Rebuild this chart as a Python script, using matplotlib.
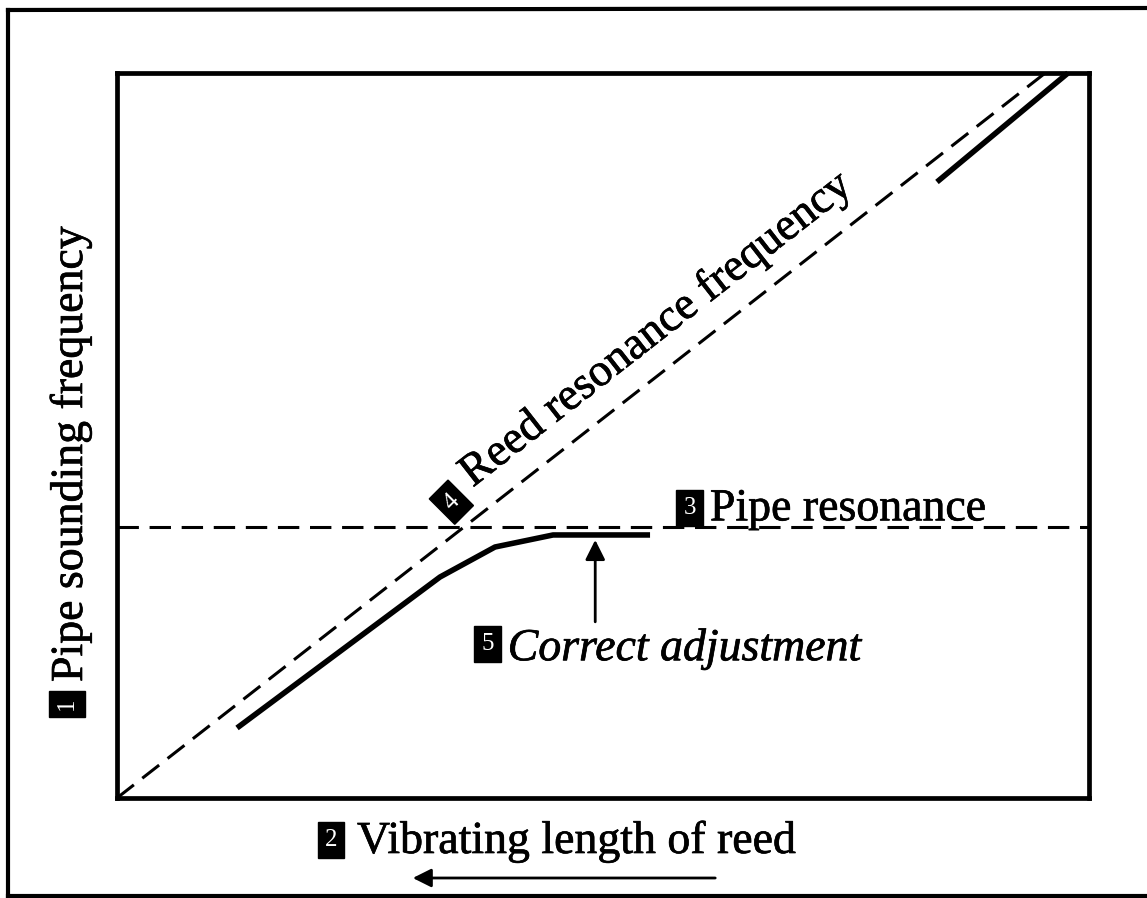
import numpy as np
import matplotlib.pyplot as plt
import matplotlib.patheffects as pe
from matplotlib.lines import Line2D
from matplotlib.patches import FancyArrowPatch

# Diagram data (axes units 0..1)
reed_x = [0.0, 0.955]
reed_y = [0.0, 1.0]
pipe_level = 0.374
sound_x = [0.1235, 0.3323, 0.3889, 0.4486, 0.5484]
sound_y = [0.0966, 0.3048, 0.3462, 0.3628, 0.3628]
upper_x = [0.8436, 0.9784]
upper_y = [0.8497, 1.0]
adjust_x = 0.492
adjust_y = [0.243, 0.356]

badges = ["1", "2", "3", "4", "5"]
labels = ["Pipe sounding frequency", "Vibrating length of reed",
          "Pipe resonance", "Reed resonance frequency", "Correct adjustment"]

plt.rcParams['font.family'] = ['Liberation Serif', 'DejaVu Serif']

fig = plt.figure(figsize=(11.47, 8.98), dpi=100)
ax = fig.add_axes([117 / 1147, 1 - 798 / 898, 972 / 1147, 725 / 898])
ax.set_xlim(0, 1)
ax.set_ylim(0, 1)
ax.set_xticks([])
ax.set_yticks([])
for s in ax.spines.values():
    s.set_linewidth(3.4)

# outer frame of the figure
W, H = 1147, 898
fig.add_artist(Line2D([8 / W, 8 / W], [0, 1 - 10 / H], transform=fig.transFigure,
                      color='black', lw=3))
fig.add_artist(Line2D([8 / W, 1], [1 - 10 / H, 1 - 8 / H], transform=fig.transFigure,
                      color='black', lw=3))
fig.add_artist(Line2D([8 / W, 1], [2 / H, 2 / H], transform=fig.transFigure,
                      color='black', lw=3))

dash = (0, (7, 3.5))
ax.plot(reed_x, reed_y, color='black', lw=2.2, linestyle=dash, clip_on=False)
ax.plot([0, 1], [pipe_level, pipe_level], color='black', lw=2.2, linestyle=dash)
ax.plot(sound_x, sound_y, color='black', lw=4.0, solid_capstyle='butt')
ax.plot(upper_x, upper_y, color='black', lw=4.0, solid_capstyle='butt', clip_on=False)

ax.annotate('', xy=(adjust_x, adjust_y[1]), xytext=(adjust_x, adjust_y[0]),
            arrowprops=dict(arrowstyle='-|>', color='black', lw=2,
                            mutation_scale=30, shrinkA=0, shrinkB=0))

fs = 33
bfs = 18
heavy = [pe.withStroke(linewidth=0.5, foreground='black')]
bbox = dict(boxstyle='square,pad=0.28', fc='black', ec='black')


def badge(x, y, s, rot=0, tr=None):
    return fig.text(x, y, s, fontsize=bfs, color='white', rotation=rot,
                    rotation_mode='anchor', ha='center', va='center',
                    bbox=bbox, transform=tr or fig.transFigure)


# 3 Pipe resonance
ax.text(0.610, 0.383, labels[2], fontsize=fs, ha='left', va='baseline', path_effects=heavy)
badge(0.589, 0.400, badges[2], tr=ax.transAxes)

# 5 Correct adjustment
ax.text(0.402, 0.190, labels[4], fontsize=fs, style='italic', ha='left', va='baseline',
        path_effects=heavy)
badge(0.381, 0.213, badges[4], tr=ax.transAxes)

# 4 Reed resonance frequency, parallel to the dashed line
p0 = ax.transData.transform((reed_x[0], reed_y[0]))
p1 = ax.transData.transform((reed_x[1], reed_y[1]))
ang = np.degrees(np.arctan2(p1[1] - p0[1], p1[0] - p0[0]))
ax.text(0.366, 0.428, labels[3], fontsize=fs, rotation=ang, rotation_mode='anchor',
        ha='left', va='baseline', path_effects=heavy)
badge(0.344, 0.408, badges[3], rot=45, tr=ax.transAxes)

# 1 Pipe sounding frequency (y label)
fig.text(82 / W, 1 - 682 / H, labels[0], fontsize=fs, rotation=90,
         rotation_mode='anchor', ha='left', va='baseline', path_effects=heavy)
badge(67 / W, 1 - 704 / H, badges[0], rot=90)

# 2 Vibrating length of reed (x label)
fig.text(357 / W, 1 - 853 / H, labels[1], fontsize=fs, ha='left', va='baseline',
         path_effects=heavy)
badge(331 / W, 1 - 840 / H, badges[1])
fig.add_artist(FancyArrowPatch((718 / W, 1 - 878 / H), (410 / W, 1 - 878 / H),
                               transform=fig.transFigure, arrowstyle='-|>',
                               mutation_scale=28, color='black', lw=2))

fig.savefig('out.png', dpi=100)
